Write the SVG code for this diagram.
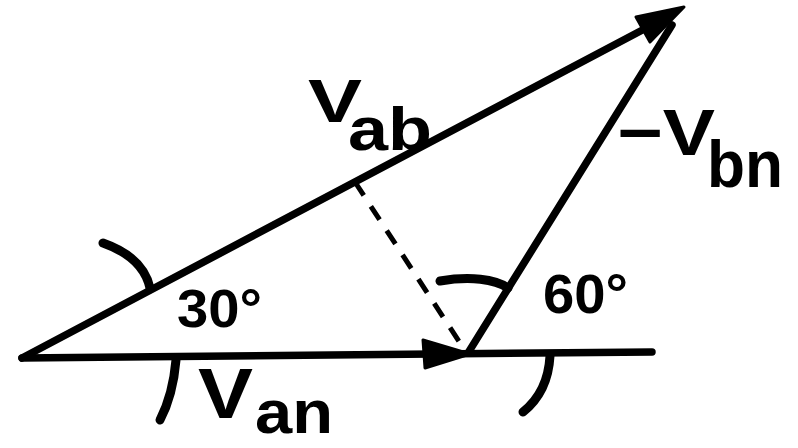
<svg xmlns="http://www.w3.org/2000/svg" width="798" height="448" viewBox="0 0 798 448">
  <style>
    .ln { stroke: #000; stroke-width: 7.5; stroke-linecap: round; fill: none; }
    .dash { stroke: #000; stroke-width: 5; stroke-dasharray: 16 13; fill: none; }
    .tick { stroke: #000; stroke-width: 9; stroke-linecap: round; fill: none; }
    .hd { fill: #000; stroke: #000; stroke-width: 3; stroke-linejoin: round; }
    .t { font-family: "Liberation Sans", Arial, sans-serif; font-weight: bold; fill: #000; }
  </style>
  <rect width="798" height="448" fill="#fff"/>
  <g id="connectors">
    <g id="Vab">
      <line class="ln" x1="22" y1="358" x2="650" y2="26"/>
      <polygon class="hd" points="684,7 636,17 650,42"/>
    </g>
    <g id="Van">
      <line class="ln" x1="22" y1="358" x2="652" y2="352"/>
      <polygon class="hd" points="470,354 423,340 425,368"/>
    </g>
    <g id="minusVbn">
      <line class="ln" x1="468" y1="353" x2="672" y2="25"/>
    </g>
    <g id="dashed">
      <line class="dash" x1="355" y1="182" x2="462" y2="346"/>
    </g>
    <g id="ticks">
      <path class="tick" d="M103,243 Q143,257 150,288"/>
      <path class="tick" d="M176,360 Q173,395 160,420"/>
      <path class="tick" d="M440,281 C470,276 495,279 508,288"/>
      <path class="tick" d="M550,356 Q548,392 523,412"/>
    </g>
  </g>
  <g id="label-Vab">
    <text class="t" x="308" y="122" font-size="62" textLength="54" lengthAdjust="spacingAndGlyphs">V</text>
    <text class="t" x="348" y="150" font-size="62" textLength="84" lengthAdjust="spacingAndGlyphs">ab</text>
  </g>
  <g id="label-Vbn">
    <text class="t" x="617" y="155" font-size="65" textLength="98" lengthAdjust="spacingAndGlyphs">−V</text>
    <text class="t" x="707" y="187" font-size="66" textLength="76" lengthAdjust="spacingAndGlyphs">bn</text>
  </g>
  <g id="label-Van">
    <text class="t" x="198" y="418" font-size="70" textLength="55" lengthAdjust="spacingAndGlyphs">V</text>
    <text class="t" x="255" y="433" font-size="62" textLength="78" lengthAdjust="spacingAndGlyphs">an</text>
  </g>
  <g id="label-30">
    <text class="t" x="177" y="327" font-size="53" textLength="85" lengthAdjust="spacingAndGlyphs">30°</text>
  </g>
  <g id="label-60">
    <text class="t" x="543" y="313" font-size="55" textLength="85" lengthAdjust="spacingAndGlyphs">60°</text>
  </g>
</svg>
